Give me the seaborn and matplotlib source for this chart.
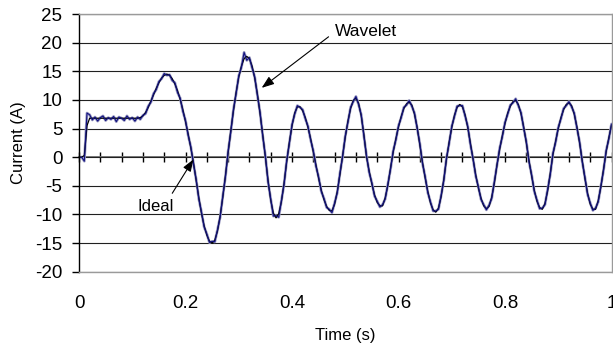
import numpy as np
import seaborn as sns
import matplotlib.pyplot as plt

# Current waveform, one value every 5 ms from 0 to 1 s
ideal_a = [0.0, 0.0, 0.3, 5.5, 6.8,
           6.8, 6.8, 6.8, 6.8, 6.8, 6.8, 6.8, 6.8, 6.8, 6.8, 6.8, 6.8, 6.8, 6.8, 6.8, 6.8, 6.8, 6.8,
           6.9, 7.2, 7.8, 8.7, 9.8, 10.9, 12.0, 13.0, 13.8, 14.3, 14.5, 14.3, 13.7, 12.8, 11.6, 10.1,
           8.3, 6.2, 4.0, 1.6, -1.0, -4.1, -7.1, -9.8, -12.0, -13.6, -14.7, -15.0, -14.5, -12.9, -10.3,
           -7.0, -3.2, 0.8, 4.6, 8.1, 11.3, 14.0, 15.9, 17.2, 17.6, 17.2, 15.9, 13.8, 11.0, 7.6, 3.9,
           0.0, -4.1, -7.5, -9.8, -10.6, -9.9, -7.8, -4.6, -0.8, 2.6, 5.5, 7.7, 8.8, 8.8, 8.1, 6.9,
           5.2, 3.2, 0.9, -1.4, -3.7, -5.8, -7.4, -8.6, -9.3, -9.4, -8.2, -6.0, -3.0, 0.3, 3.5, 6.3,
           8.5, 9.9, 10.3, 9.4, 7.2, 3.9, 0.0, -2.5, -4.7, -6.6, -7.9, -8.5, -8.5, -7.1, -4.9, -1.9,
           0.9, 3.2, 5.3, 7.1, 8.5, 9.3, 9.6, 9.1, 7.5, 5.2, 2.2, -0.9, -3.6, -6.0, -8.0, -9.2, -9.6,
           -8.9, -6.9, -3.9, -0.4, 2.6, 5.2, 7.3, 8.7, 9.2, 8.8, 7.4, 5.2, 2.4, -0.5, -3.1, -5.4,
           -7.2, -8.5, -9.0, -8.6, -7.0, -4.5, -1.3, 1.4, 3.8, 5.9, 7.7, 8.9, 9.7, 9.9, 9.2, 7.6,
           5.3, 2.5, -0.6, -3.3, -5.8, -7.7, -8.8, -9.1, -8.1, -5.9, -2.8, 0.5, 2.8, 5.0, 6.9, 8.3,
           9.2, 9.5, 9.0, 7.5, 5.3, 2.5, -0.6, -3.7, -6.3, -8.2, -9.1, -9.1, -7.6, -5.2, -2.1, 1.0,
           3.4, 5.6]

wavelet_a = [0.0, 0.0, -0.7, 7.7,
             7.4, 6.5, 7.0, 6.3, 6.9, 7.2, 6.4, 6.9, 6.6, 7.1, 6.2, 7.0, 6.8, 6.4, 7.2, 6.6, 6.9, 6.3, 7.0,
             6.6, 7.3, 7.6, 8.9, 9.6, 11.1, 11.8, 13.2, 13.7, 14.6, 14.3, 14.4, 13.4, 13.0, 11.3, 10.3,
             8.0, 6.4, 3.8, 1.8, -1.2, -3.9, -7.3, -9.6, -12.2, -13.4, -14.9, -14.7, -14.8, -12.7, -10.5,
             -6.8, -3.4, 1.0, 4.4, 8.3, 11.1, 14.2, 15.7, 18.3, 16.9, 17.4, 15.6, 14.0, 10.8, 7.8, 3.7,
             0.2, -4.3, -7.3, -10.3, -10.2, -10.5, -7.6, -4.8, -0.6, 2.4, 5.7, 7.5, 9.0, 8.7, 8.3, 6.7,
             5.4, 3.0, 1.1, -1.6, -3.5, -6.0, -7.2, -8.8, -9.1, -9.7, -8.0, -6.2, -2.8, 0.1, 3.7, 6.1,
             8.7, 9.7, 10.6, 9.2, 7.4, 3.7, 0.2, -2.7, -4.5, -6.8, -7.7, -8.7, -8.3, -7.3, -4.7, -2.1,
             1.1, 3.0, 5.5, 6.9, 8.7, 9.1, 9.9, 8.9, 7.7, 5.0, 2.4, -1.1, -3.4, -6.2, -7.8, -9.4, -9.4,
             -9.1, -6.7, -4.1, -0.2, 2.4, 5.4, 7.1, 8.9, 9.0, 9.0, 7.2, 5.4, 2.2, -0.3, -3.3, -5.2,
             -7.4, -8.3, -9.2, -8.4, -7.2, -4.3, -1.5, 1.6, 3.6, 6.1, 7.5, 9.1, 9.5, 10.2, 9.0, 7.8,
             5.1, 2.7, -0.8, -3.1, -6.0, -7.5, -9.0, -8.9, -8.3, -5.7, -3.0, 0.7, 2.6, 5.2, 6.7, 8.5,
             9.0, 9.7, 8.8, 7.7, 5.1, 2.7, -0.8, -3.5, -6.5, -8.0, -9.3, -8.9, -7.8, -5.0, -2.3, 1.2,
             3.2, 5.8]

time_s = np.linspace(0, 1, len(ideal_a))
assert len(wavelet_a) == len(ideal_a)

x_labels = [0, 0.2, 0.4, 0.6, 0.8, 1]
y_ticks = list(range(-20, 26, 5))

sns.set_theme(style="white")
plt.rcParams['font.family'] = ['Liberation Sans', 'DejaVu Sans']
plt.rcParams['axes.unicode_minus'] = False

fig = plt.figure(figsize=(6.13, 3.44), dpi=100)
ax = fig.add_axes([0.1289, 0.2102, 0.8687, 0.7491])

# wavelet drawn as a soft blue-grey band with a thin navy trace on top
sns.lineplot(x=time_s, y=wavelet_a, ax=ax, color='#9c9cc2', lw=2.0, sort=False)
sns.lineplot(x=time_s, y=ideal_a, ax=ax, color='black', lw=0.9, sort=False)
sns.lineplot(x=time_s, y=wavelet_a, ax=ax, color='#101080', lw=0.8, sort=False)

ax.set_xlim(0, 1)
ax.set_ylim(-20, 25)
ax.set_yticks(y_ticks)
ax.set_xticks(x_labels)
ax.set_xticklabels(['0', '0.2', '0.4', '0.6', '0.8', '1'])
ax.grid(axis='y', color='#202020', lw=0.8)
ax.grid(axis='x', visible=False)
ax.set_axisbelow(True)

for side in ['top', 'right', 'bottom']:
    ax.spines[side].set_color('#9a9a9a')
    ax.spines[side].set_linewidth(1.0)
ax.spines['left'].set_color('black')
ax.spines['left'].set_linewidth(1.0)

ax.tick_params(axis='y', left=True, length=5, width=1, color='black', direction='out',
               labelsize=13.5, pad=7, labelcolor='black')
ax.tick_params(axis='x', bottom=False, length=0, labelsize=13.5, pad=17, labelcolor='black')

# x axis line crossing at zero current, tick marks every 0.04 s
zero_ax = ax.secondary_xaxis(20 / 45)
zero_ax.set_xticks(np.arange(0, 1.0001, 0.04))
zero_ax.tick_params(direction='inout', length=7, width=1, color='black', labelbottom=False)
zero_ax.spines['bottom'].set_color('#707070')
zero_ax.spines['bottom'].set_linewidth(1.3)

ax.set_ylabel('Current (A)', fontsize=12, color='black')
ax.yaxis.set_label_coords(-0.099, 0.5)
ax.set_xlabel('Time (s)', fontsize=12, color='black')
ax.xaxis.set_label_coords(0.4995, -0.22)

ax.annotate('Wavelet', xy=(0.343, 12.1), xytext=(0.481, 21.9), fontsize=12.5,
            ha='left', va='center', color='black',
            arrowprops=dict(arrowstyle='-|>,head_length=0.6,head_width=0.22', color='black',
                            lw=0.8, shrinkA=3, shrinkB=0, relpos=(0, 0.5)))
ax.annotate('Ideal', xy=(0.2147, -0.4), xytext=(0.1446, -8.6), fontsize=12,
            ha='center', va='center', color='black',
            arrowprops=dict(arrowstyle='-|>,head_length=0.6,head_width=0.22', color='black',
                            lw=0.8, shrinkA=2, shrinkB=0, relpos=(0.85, 1.0)))

fig.savefig('out.png', dpi=100)
